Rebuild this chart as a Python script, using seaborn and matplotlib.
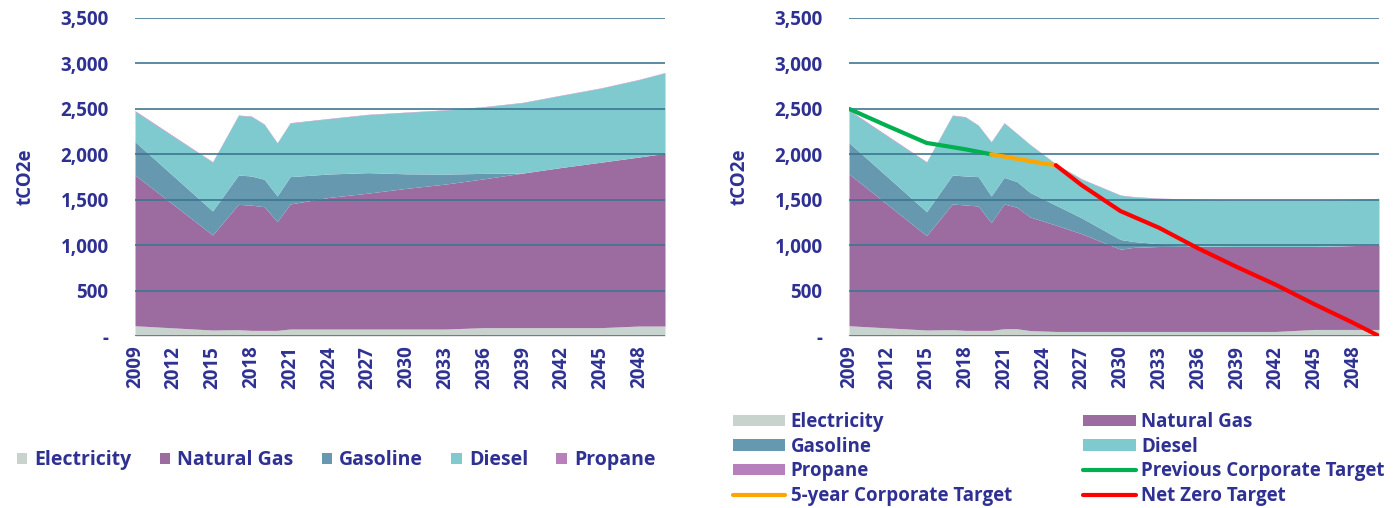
import matplotlib
import matplotlib.pyplot as plt
import seaborn as sns
from matplotlib.lines import Line2D
from matplotlib.patches import Patch
from matplotlib.ticker import FuncFormatter

matplotlib.use("Agg")

# ---- data (tCO2e per source) ----
SOURCES = ["Electricity", "Natural Gas", "Gasoline", "Diesel", "Propane"]

# business as usual
years_bau = [2009, 2015, 2017, 2018, 2019, 2020, 2021, 2024, 2027, 2030,
             2033, 2036, 2039, 2042, 2045, 2048, 2050]
electricity_bau = [113, 66, 70, 62, 62, 62, 77, 77, 77, 77, 77, 92, 92, 92, 92, 110, 110]
natural_gas_bau = [1659, 1046, 1379, 1378, 1361, 1196, 1376, 1448, 1495, 1548,
                   1595, 1638, 1701, 1763, 1820, 1860, 1900]
gasoline_bau = [367, 264, 323, 321, 302, 283, 301, 258, 226, 160, 110, 60, 0, 0, 0, 0, 0]
diesel_bau = [333, 536, 655, 655, 603, 582, 589, 608, 638, 676, 704, 731, 775,
              793, 814, 851, 886]
propane_bau = [8, 6, 5, 5, 5, 5, 5, 4, 4, 4, 4, 4, 4, 4, 4, 4, 4]

# net zero pathway
years_nz = [2009, 2015, 2017, 2018, 2019, 2020, 2021, 2022, 2023, 2025, 2027,
            2030, 2031, 2033, 2036, 2039, 2042, 2045, 2048, 2050]
electricity_nz = [113, 66, 70, 62, 62, 62, 80, 80, 60, 50, 50, 50, 50, 50, 50,
                  50, 50, 72, 72, 72]
natural_gas_nz = [1670, 1038, 1383, 1380, 1369, 1185, 1373, 1336, 1250, 1170,
                  1075, 905, 925, 935, 938, 935, 935, 913, 923, 930]
gasoline_nz = [345, 264, 319, 319, 323, 294, 293, 283, 270, 220, 175, 107, 65,
               30, 0, 0, 0, 0, 0, 0]
diesel_nz = [351, 544, 655, 648, 563, 593, 597, 527, 526, 451, 426, 486, 491,
             499, 513, 511, 511, 511, 506, 509]
propane_nz = [8, 6, 5, 5, 5, 5, 5, 4, 4, 4, 4, 4, 4, 4, 4, 4, 4, 4, 4, 4]

# targets
prev_target_years = [2009, 2012, 2015, 2016, 2018, 2020]
prev_target = [2500, 2310, 2125, 2102, 2055, 2000]
five_year_years = [2020, 2022, 2024, 2025]
five_year_target = [2000, 1950, 1900, 1880]
net_zero_years = [2025, 2027, 2030, 2033, 2036, 2039, 2042, 2045, 2048, 2050]
net_zero_target = [1880, 1660, 1375, 1190, 965, 760, 565, 350, 145, 0]

tick_years = list(range(2009, 2050, 3))
y_ticks = list(range(0, 3501, 500))

AREA_COLORS = ["#c8d3ce", "#9c6ba0", "#6699b0", "#7ecacf", "#b87fbd"]
NAVY = "#2e3192"
GRID = "#3b7590"

sns.set_theme(style="white")
plt.rcParams["font.family"] = ["Open Sans", "DejaVu Sans"]
plt.rcParams["font.weight"] = "bold"

fig = plt.figure(figsize=(13.94, 5.08), dpi=100)
ax_l = fig.add_axes([135 / 1394, 1 - 336 / 508, 530 / 1394, 318 / 508])
ax_r = fig.add_axes([849 / 1394, 1 - 336 / 508, 530 / 1394, 318 / 508])


def style_axes(ax):
    ax.set_xlim(2009, 2050)
    ax.set_ylim(0, 3500)
    ax.set_yticks(y_ticks)
    ax.set_xticks(tick_years)
    ax.yaxis.set_major_formatter(FuncFormatter(lambda v, _: "-" if v == 0 else f"{int(v):,}"))
    ax.set_xticklabels([str(y) for y in tick_years], rotation=90)
    ax.tick_params(axis="both", length=0, labelsize=13.5, labelcolor=NAVY)
    ax.tick_params(axis="y", pad=19)
    ax.tick_params(axis="x", pad=7)
    for lbl in ax.get_xticklabels() + ax.get_yticklabels():
        lbl.set_fontweight("bold")
    ax.set_ylabel("tCO2e", fontsize=13.5, fontweight="bold", color=NAVY, labelpad=18)
    ax.grid(axis="y", color=GRID, linewidth=1.3, alpha=0.9)
    ax.grid(axis="x", visible=False)
    ax.set_axisbelow(False)
    for s in ax.spines.values():
        s.set_visible(False)


ax_l.stackplot(years_bau, electricity_bau, natural_gas_bau, gasoline_bau, diesel_bau,
               propane_bau, colors=AREA_COLORS, linewidth=0)
style_axes(ax_l)

ax_r.stackplot(years_nz, electricity_nz, natural_gas_nz, gasoline_nz, diesel_nz,
               propane_nz, colors=AREA_COLORS, linewidth=0)
sns.lineplot(x=prev_target_years, y=prev_target, color="#00b050", linewidth=3, ax=ax_r, zorder=3)
sns.lineplot(x=five_year_years, y=five_year_target, color="#ffa500", linewidth=3, ax=ax_r, zorder=3)
sns.lineplot(x=net_zero_years, y=net_zero_target, color="#ff0000", linewidth=3, ax=ax_r, zorder=3)
style_axes(ax_r)

# left legend: one row of small squares
sq = [Patch(facecolor=c, edgecolor="none") for c in AREA_COLORS]
leg_l = fig.legend(sq, SOURCES, loc="center left", bbox_to_anchor=(0.012, 0.094), ncol=5,
                   frameon=False, fontsize=14, handlelength=0.55, handleheight=0.55,
                   handletextpad=0.35, columnspacing=1.45, borderpad=0, borderaxespad=0)
for t in leg_l.get_texts():
    t.set_color(NAVY)
    t.set_fontweight("bold")

# right legend: two columns, row-major order
pat = {name: Patch(facecolor=c, edgecolor="none") for name, c in zip(SOURCES, AREA_COLORS)}
ln_prev = Line2D([], [], color="#00b050", linewidth=3)
ln_five = Line2D([], [], color="#ffa500", linewidth=3)
ln_nz = Line2D([], [], color="#ff0000", linewidth=3)
handles = [pat["Electricity"], pat["Gasoline"], pat["Propane"], ln_five,
           pat["Natural Gas"], pat["Diesel"], ln_prev, ln_nz]
labels = ["Electricity", "Gasoline", "Propane", "5-year Corporate Target",
          "Natural Gas", "Diesel", "Previous Corporate Target", "Net Zero Target"]
leg_r = fig.legend(handles, labels, loc="center left", bbox_to_anchor=(0.5255, 0.0965), ncol=2,
                   frameon=False, fontsize=13.5, handlelength=2.8, handleheight=0.55,
                   handletextpad=0.3, columnspacing=3.8, labelspacing=0.25,
                   borderpad=0, borderaxespad=0)
for t in leg_r.get_texts():
    t.set_color(NAVY)
    t.set_fontweight("bold")

fig.savefig("out.png", dpi=100)
plt.close(fig)
